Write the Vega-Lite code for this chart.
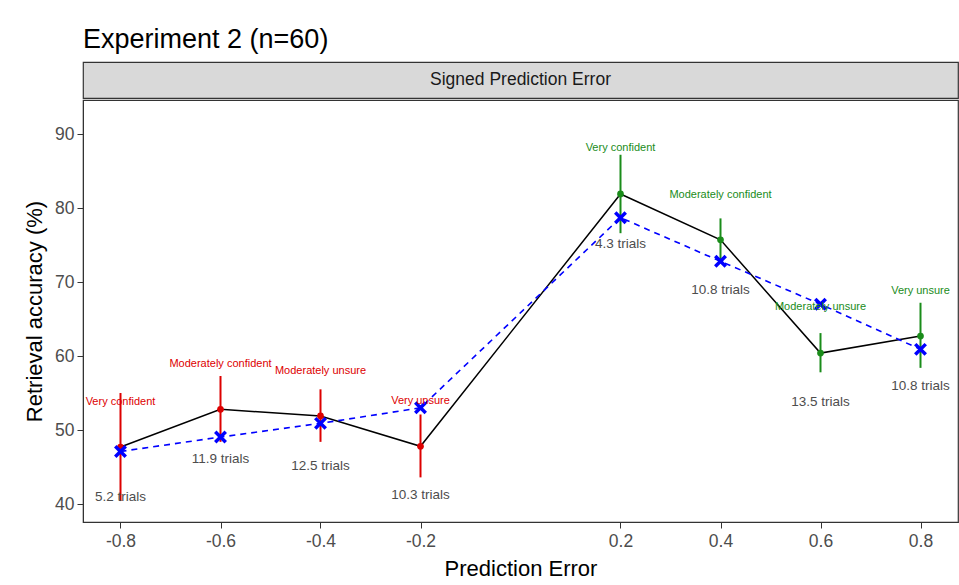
{
  "$schema": "https://vega.github.io/schema/vega-lite/v6.json",
  "background": "white",
  "padding": {"left": 22, "top": 25, "right": 2, "bottom": 2},
  "config": {
    "font": "Liberation Sans",
    "concat": {"spacing": 0},
    "view": {"stroke": "#333333", "strokeWidth": 1.2}
  },
  "datasets": {
    "pts": [
      {"pe": -0.8, "sign": "neg", "acc": 47.7, "lo": 40.4, "hi": 55.0, "model": 47.1, "conf": "Very confident", "conf_y": 53.8, "trials": "5.2 trials", "trials_y": 40.9},
      {"pe": -0.6, "sign": "neg", "acc": 52.8, "lo": 48.4, "hi": 57.3, "model": 49.05, "conf": "Moderately confident", "conf_y": 58.9, "trials": "11.9 trials", "trials_y": 46.1},
      {"pe": -0.4, "sign": "neg", "acc": 51.9, "lo": 48.4, "hi": 55.5, "model": 50.9, "conf": "Moderately unsure", "conf_y": 58.0, "trials": "12.5 trials", "trials_y": 45.1},
      {"pe": -0.2, "sign": "neg", "acc": 47.8, "lo": 43.6, "hi": 52.1, "model": 53.0, "conf": "Very unsure", "conf_y": 53.9, "trials": "10.3 trials", "trials_y": 41.2},
      {"pe": 0.2, "sign": "pos", "acc": 81.9, "lo": 76.6, "hi": 87.2, "model": 78.7, "conf": "Very confident", "conf_y": 88.1, "trials": "4.3 trials", "trials_y": 75.1},
      {"pe": 0.4, "sign": "pos", "acc": 75.7, "lo": 72.8, "hi": 78.6, "model": 72.8, "conf": "Moderately confident", "conf_y": 81.8, "trials": "10.8 trials", "trials_y": 68.9},
      {"pe": 0.6, "sign": "pos", "acc": 60.4, "lo": 57.8, "hi": 63.1, "model": 67.0, "conf": "Moderately unsure", "conf_y": 66.6, "trials": "13.5 trials", "trials_y": 53.8},
      {"pe": 0.8, "sign": "pos", "acc": 62.7, "lo": 58.4, "hi": 67.2, "model": 60.9, "conf": "Very unsure", "conf_y": 68.8, "trials": "10.8 trials", "trials_y": 55.9}
    ]
  },
  "vconcat": [
    {
      "width": 875,
      "height": 36,
      "view": {"fill": "#d9d9d9", "stroke": "#333333", "strokeWidth": 1.2},
      "title": {"text": "Experiment 2 (n=60)", "anchor": "start", "frame": "group", "fontSize": 27, "fontWeight": "normal", "color": "#000000", "offset": 8},
      "data": {"values": [{"t": "Signed Prediction Error"}]},
      "mark": {"type": "text", "fontSize": 17.5, "color": "#1a1a1a", "baseline": "middle", "align": "center"},
      "encoding": {"text": {"field": "t"}}
    },
    {
      "width": 875,
      "height": 422,
      "data": {"name": "pts"},
      "encoding": {
        "x": {
          "field": "pe", "type": "quantitative",
          "scale": {"domain": [-0.875, 0.875], "nice": false, "zero": false},
          "axis": {
            "values": [-0.8, -0.6, -0.4, -0.2, 0.2, 0.4, 0.6, 0.8],
            "labelExpr": "replace(format(datum.value, '.1f'), '\u2212', '-')",
            "title": "Prediction Error", "titleFontSize": 22, "titleFontWeight": "normal", "titleColor": "#000000", "titlePadding": 9,
            "labelFontSize": 17.5, "labelColor": "#4d4d4d", "labelPadding": 4,
            "tickSize": 6, "tickColor": "#333333", "domainColor": "#333333", "grid": false
          }
        }
      },
      "layer": [
        {
          "mark": {"type": "rule", "strokeWidth": 2},
          "encoding": {
            "y": {"field": "lo", "type": "quantitative",
              "scale": {"domain": [37.57, 94.6], "nice": false, "zero": false},
              "axis": {
                "values": [40, 50, 60, 70, 80, 90],
                "title": "Retrieval accuracy (%)", "titleFontSize": 22, "titleFontWeight": "normal", "titleColor": "#000000", "titlePadding": 8,
                "labelFontSize": 17.5, "labelColor": "#4d4d4d", "labelPadding": 3,
                "tickSize": 6, "tickColor": "#333333", "domainColor": "#333333", "grid": false
              }
            },
            "y2": {"field": "hi"},
            "color": {"field": "sign", "type": "nominal", "scale": {"domain": ["neg", "pos"], "range": ["#dd0000", "#1a8c1a"]}, "legend": null}
          }
        },
        {
          "mark": {"type": "line", "color": "#000000", "strokeWidth": 1.5},
          "encoding": {"y": {"field": "acc", "type": "quantitative"}}
        },
        {
          "mark": {"type": "point", "filled": true, "size": 45, "opacity": 1},
          "encoding": {
            "y": {"field": "acc", "type": "quantitative"},
            "color": {"field": "sign", "type": "nominal", "legend": null}
          }
        },
        {
          "mark": {"type": "line", "color": "#0000ff", "strokeWidth": 1.6, "strokeDash": [6, 5]},
          "encoding": {"y": {"field": "model", "type": "quantitative"}}
        },
        {
          "mark": {"type": "point", "shape": "M-1,-1L1,1M1,-1L-1,1", "filled": false, "stroke": "#0000ff", "strokeWidth": 3.5, "size": 110, "opacity": 1},
          "encoding": {"y": {"field": "model", "type": "quantitative"}}
        },
        {
          "mark": {"type": "text", "fontSize": 11, "baseline": "middle", "align": "center"},
          "encoding": {
            "y": {"field": "conf_y", "type": "quantitative"},
            "text": {"field": "conf"},
            "color": {"field": "sign", "type": "nominal", "legend": null}
          }
        },
        {
          "mark": {"type": "text", "fontSize": 13.5, "baseline": "middle", "align": "center", "color": "#4d4d4d"},
          "encoding": {
            "y": {"field": "trials_y", "type": "quantitative"},
            "text": {"field": "trials"}
          }
        }
      ]
    }
  ]
}
